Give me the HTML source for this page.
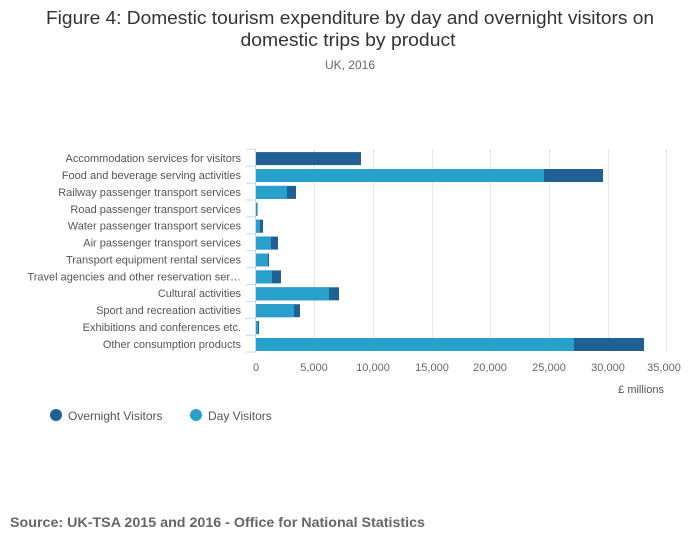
<!DOCTYPE html>
<html><head><meta charset="utf-8"><style>
body{margin:0;background:#fff;}
svg{display:block;font-family:"Liberation Sans",sans-serif;}
</style></head><body>
<svg width="700" height="549" viewBox="0 0 700 549">
<text x="350" y="24" text-anchor="middle" font-size="18" fill="#333" textLength="608" lengthAdjust="spacingAndGlyphs">Figure 4: Domestic tourism expenditure by day and overnight visitors on</text>
<text x="348" y="46" text-anchor="middle" font-size="18" fill="#333" textLength="215" lengthAdjust="spacingAndGlyphs">domestic trips by product</text>
<text x="350" y="69" text-anchor="middle" font-size="12" fill="#666">UK, 2016</text>
<g stroke="#e6e6e6" stroke-width="1">
<line x1="314.5" y1="149" x2="314.5" y2="352"/><line x1="373.5" y1="149" x2="373.5" y2="352"/>
<line x1="432.5" y1="149" x2="432.5" y2="352"/><line x1="490.5" y1="149" x2="490.5" y2="352"/>
<line x1="549.5" y1="149" x2="549.5" y2="352"/><line x1="608.5" y1="149" x2="608.5" y2="352"/>
<line x1="666.5" y1="149" x2="666.5" y2="352"/>
</g>
<g stroke="#ccd6eb" stroke-width="1">
<line x1="255.5" y1="149" x2="255.5" y2="352"/>
<line x1="246" y1="149.3" x2="256" y2="149.3"/><line x1="246" y1="166.2" x2="256" y2="166.2"/>
<line x1="246" y1="183.1" x2="256" y2="183.1"/><line x1="246" y1="200" x2="256" y2="200"/>
<line x1="246" y1="216.9" x2="256" y2="216.9"/><line x1="246" y1="233.8" x2="256" y2="233.8"/>
<line x1="246" y1="250.7" x2="256" y2="250.7"/><line x1="246" y1="267.6" x2="256" y2="267.6"/>
<line x1="246" y1="284.5" x2="256" y2="284.5"/><line x1="246" y1="301.4" x2="256" y2="301.4"/>
<line x1="246" y1="318.3" x2="256" y2="318.3"/><line x1="246" y1="335.2" x2="256" y2="335.2"/>
<line x1="246" y1="352.1" x2="256" y2="352.1"/>
</g>
<g fill="#206095">
<rect x="256" y="152.1" width="105" height="13"/>
<rect x="256" y="169" width="347" height="13"/>
<rect x="256" y="185.9" width="40" height="13"/>
<rect x="256" y="202.8" width="1.5" height="13"/>
<rect x="256" y="219.7" width="7" height="13"/>
<rect x="256" y="236.6" width="22" height="13"/>
<rect x="256" y="253.5" width="13" height="13"/>
<rect x="256" y="270.4" width="25" height="13"/>
<rect x="256" y="287.3" width="83" height="13"/>
<rect x="256" y="304.2" width="44" height="13"/>
<rect x="256" y="321.1" width="3" height="13"/>
<rect x="256" y="338" width="388" height="13"/>
</g>
<g fill="#27a0cc">
<rect x="256" y="169" width="288" height="13"/>
<rect x="256" y="185.9" width="31" height="13"/>
<rect x="256" y="202.8" width="0.8" height="13"/>
<rect x="256" y="219.7" width="4" height="13"/>
<rect x="256" y="236.6" width="15" height="13"/>
<rect x="256" y="253.5" width="12" height="13"/>
<rect x="256" y="270.4" width="16" height="13"/>
<rect x="256" y="287.3" width="73" height="13"/>
<rect x="256" y="304.2" width="38" height="13"/>
<rect x="256" y="321.1" width="2" height="13"/>
<rect x="256" y="338" width="318" height="13"/>
</g>
<g font-size="11" fill="#555" text-anchor="end">
<text x="241" y="162">Accommodation services for visitors</text>
<text x="241" y="179">Food and beverage serving activities</text>
<text x="241" y="196">Railway passenger transport services</text>
<text x="241" y="213">Road passenger transport services</text>
<text x="241" y="229.5">Water passenger transport services</text>
<text x="241" y="246.5">Air passenger transport services</text>
<text x="241" y="263.5">Transport equipment rental services</text>
<text x="241" y="280.5">Travel agencies and other reservation ser…</text>
<text x="241" y="297">Cultural activities</text>
<text x="241" y="314">Sport and recreation activities</text>
<text x="241" y="331">Exhibitions and conferences etc.</text>
<text x="241" y="348">Other consumption products</text>
</g>
<g font-size="11" fill="#666" text-anchor="middle">
<text x="256" y="371">0</text><text x="314" y="371">5,000</text><text x="373" y="371">10,000</text>
<text x="432" y="371">15,000</text><text x="490" y="371">20,000</text><text x="549" y="371">25,000</text>
<text x="608" y="371">30,000</text><text x="664" y="371">35,000</text>
</g>
<text x="664" y="393" font-size="11" fill="#555" text-anchor="end">£ millions</text>
<circle cx="56" cy="415" r="6" fill="#206095"/>
<text x="68" y="420" font-size="12" fill="#555">Overnight Visitors</text>
<circle cx="196" cy="415" r="6" fill="#27a0cc"/>
<text x="208" y="420" font-size="12" fill="#555">Day Visitors</text>
<text x="10" y="527" font-size="14" font-weight="bold" fill="#666" textLength="415" lengthAdjust="spacingAndGlyphs">Source: UK-TSA 2015 and 2016 - Office for National Statistics</text>
</svg>
</body></html>
